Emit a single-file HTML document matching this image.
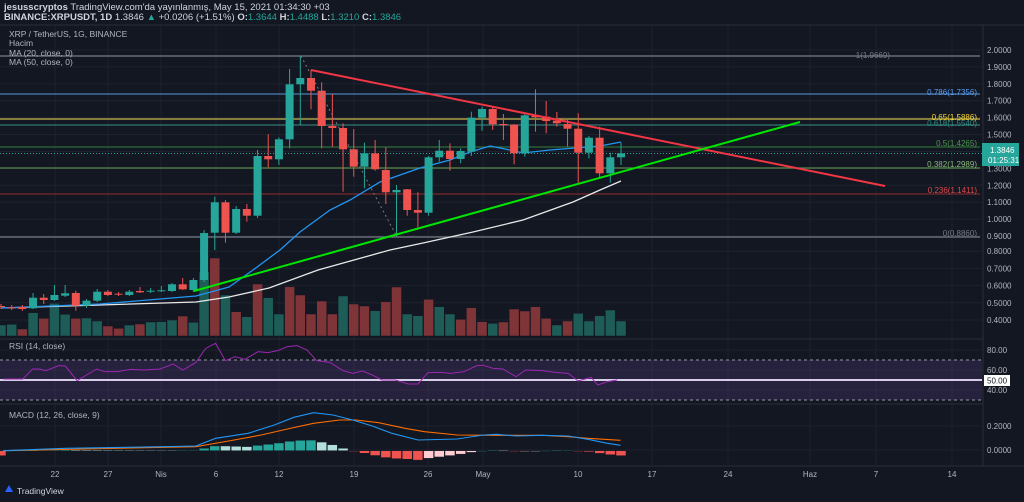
<!DOCTYPE html>
<html><head><meta charset="utf-8"><style>
body{margin:0;background:#131722;width:1024px;height:502px;overflow:hidden;font-family:"Liberation Sans",sans-serif}
svg{position:absolute;left:0;top:0}
</style></head><body>
<svg id="s" width="1024" height="502" xmlns="http://www.w3.org/2000/svg" font-family="Liberation Sans, sans-serif">
<rect width="1024" height="502" fill="#131722"/>
<g id="grid" stroke="#1e222d" stroke-width="1"></g>
<g id="main"></g>
<text x="4" y="10" fill="#d1d4dc" font-size="9.5"><tspan font-weight="bold">jesusscryptos</tspan> TradingView.com'da yayınlanmış, May 15, 2021 01:34:30 +03</text>
<text x="4" y="20" fill="#d1d4dc" font-size="9.5"><tspan font-weight="bold">BINANCE:XRPUSDT, 1D</tspan> 1.3846 <tspan fill="#26a69a">▲</tspan> +0.0206 (+1.51%) <tspan font-weight="bold">O:</tspan><tspan fill="#26a69a">1.3644</tspan> <tspan font-weight="bold">H:</tspan><tspan fill="#26a69a">1.4488</tspan> <tspan font-weight="bold">L:</tspan><tspan fill="#26a69a">1.3210</tspan> <tspan font-weight="bold">C:</tspan><tspan fill="#26a69a">1.3846</tspan></text>
<g fill="#b2b5be" font-size="8.5">
<text x="9" y="37">XRP / TetherUS, 1G, BINANCE</text>
<text x="9" y="46">Hacim</text>
<text x="9" y="56">MA (20, close, 0)</text>
<text x="9" y="65">MA (50, close, 0)</text>
<text x="9" y="349">RSI (14, close)</text>
<text x="9" y="418">MACD (12, 26, close, 9)</text>
</g>
<g fill="#b2b5be" font-size="8" id="axis"></g>
<rect x="982" y="143" width="37" height="23" fill="#26a69a"/>
<text x="990" y="153" fill="#fff" font-size="8">1.3846</text>
<text x="988" y="163" fill="#fff" font-size="8">01:25:31</text>
<rect x="984" y="375" width="26" height="11" fill="#fff"/>
<text x="987" y="383.5" fill="#131722" font-size="8">50.00</text>
<g font-size="8">
<text x="890" y="58" fill="#787b86" text-anchor="end">1(1.9669)</text>
<text x="977" y="95" fill="#5b9cf6" text-anchor="end">0.786(1.7356)</text>
<text x="977" y="120" fill="#f7d83a" text-anchor="end">0.65(1.5886)</text>
<text x="977" y="126" fill="#2f8a80" text-anchor="end">0.618(1.5540)</text>
<text x="977" y="146" fill="#4c9a4c" text-anchor="end">0.5(1.4265)</text>
<text x="977" y="167" fill="#8ab87a" text-anchor="end">0.382(1.2989)</text>
<text x="977" y="193" fill="#e0484e" text-anchor="end">0.236(1.1411)</text>
<text x="977" y="236" fill="#787b86" text-anchor="end">0(0.8860)</text>
</g>
<g fill="#b2b5be" font-size="8">
<text x="55" y="477" text-anchor="middle">22</text><text x="108" y="477" text-anchor="middle">27</text>
<text x="161" y="477" text-anchor="middle">Nis</text><text x="216" y="477" text-anchor="middle">6</text>
<text x="279" y="477" text-anchor="middle">12</text><text x="354" y="477" text-anchor="middle">19</text>
<text x="428" y="477" text-anchor="middle">26</text><text x="483" y="477" text-anchor="middle">May</text>
<text x="578" y="477" text-anchor="middle">10</text><text x="652" y="477" text-anchor="middle">17</text>
<text x="728" y="477" text-anchor="middle">24</text><text x="810" y="477" text-anchor="middle">Haz</text>
<text x="876" y="477" text-anchor="middle">7</text><text x="952" y="477" text-anchor="middle">14</text>
</g>
<path d="M5 492 l4 -7 l4 7 z" fill="#2962ff"/>
<text x="17" y="494" fill="#d1d4dc" font-size="8.5">TradingView</text>
</svg>
<script>
var NS="http://www.w3.org/2000/svg",S=document.getElementById('s');
function el(t,a,p){var e=document.createElementNS(NS,t);for(var k in a)e.setAttribute(k,a[k]);(p||document.getElementById('main')).appendChild(e);return e;}
var g=document.getElementById('grid');
[55,108,161,216,279,354,428,483,578,652,728,810,876,952].forEach(function(x){el('line',{x1:x,x2:x,y1:25,y2:465},g)});
for(var p=4;p<=20;p++){var y=50+(20-p)*16.91;if(p<9)y=320-(p-4)*17.2;el('line',{x1:0,x2:982,y1:y,y2:y},g);
 var t=el('text',{x:987,y:y+3},document.getElementById('axis'));t.textContent=(p/10).toFixed(4);}
[350,370,390].forEach(function(y,i){el('line',{x1:0,x2:982,y1:y,y2:y},g);var t=el('text',{x:987,y:y+3},document.getElementById('axis'));t.textContent=['80.00','60.00','40.00'][i];});
[426,450].forEach(function(y,i){el('line',{x1:0,x2:982,y1:y,y2:y},g);var t=el('text',{x:987,y:y+3},document.getElementById('axis'));t.textContent=['0.2000','0.0000'][i];});
el('line',{x1:983,x2:983,y1:25,y2:466,stroke:'#2a2e39'});
el('line',{x1:0,x2:1024,y1:25,y2:25,stroke:'#2a2e39'});
el('line',{x1:0,x2:983,y1:339,y2:339,stroke:'#2a2e39'});
el('line',{x1:0,x2:983,y1:404,y2:404,stroke:'#2a2e39'});
el('line',{x1:0,x2:1024,y1:466,y2:466,stroke:'#2a2e39'});
[[56,'#787b86'],[94,'#4a7fb5'],[119,'#c8b94a'],[125,'#2f7a73'],[147,'#2e6e3a'],[168,'#5a8a4a'],[194,'#7a2a2e'],[237,'#787b86']].forEach(function(f){el('line',{x1:0,x2:980,y1:f[0],y2:f[0],stroke:f[1],'stroke-width':1.2})});
el('line',{x1:0,x2:983,y1:153.5,y2:153.5,stroke:'#26a69a','stroke-dasharray':'1,2'});
var vol=[165,163,177,128,145,100,133,145,144,153,168,175,165,162,156,155,150,138,157,6,-36,75,125,140,42,83,132,50,75,132,93,132,78,102,108,122,95,51,132,137,88,110,132,148,113,155,160,156,117,123,110,145,165,153,130,153,137,120,153];
var vc="ggrgrgg rggrrgrgggrgg rgrgrggrrrrrgrrgrrggrggrrrgrrrrrgrgg".replace(/ /g,'');
function X(i){return 621-(58-i)*10.69;}
vol.forEach(function(v,i){var top=270+v/3,x=X(i);el('rect',{x:x-5,y:top,width:10,height:336-top,fill:vc[i]=='r'?'#7f3437':'#1e5c58',stroke:'#131722','stroke-width':0.5})});
var C=[[306,307,304,309],[307.3,308.3,305,310],[307,309,305,311],[308.3,297.7,293,309],[297.7,300,294,304],[300,295,285,301],[295.7,293.3,285,297],[293,305.7,290.7,310.7],[305.7,300.7,299,308],[300.7,291.7,289,302],[291.7,295,290,296],[293.7,294.7,292,296],[295,291.7,290,296],[291,292.3,287,293],[291.7,290.7,288,293],[290.7,290.3,286,292],[291,284.3,283,292],[284.3,289.3,278,290],[290,280,278,292],
[280,233,230,282],[232.7,202.3,196.7,250],[202.3,232.7,200,242.7],[232.7,209,206,234],[209,215.7,204,221.7],[215.7,156,150,218],[156,159.3,134.3,167.3],[159.3,139.3,137.3,165],[139.3,84.3,69,148.3],[84.3,78,56,125],[78,90.7,70,109.3],[90.7,126,82.3,148.3],[126,128,94,146.7],[128,149.3,123.3,191.7],[149.3,166.7,129,176.7],[166.7,153.3,142.7,188.3],[153.3,169.3,140,170.7],[170,192.3,147.3,204],[192.3,190,185,236.7],[189.3,210,189,215.7],[210,212.7,192.3,227.3],[212.7,157.3,156,215.7],[157.3,150.7,140,161.7],[150.7,159,143.3,170.7],[159,151,148.3,163.3],[151.7,117.7,111.7,156],[117.7,109,106.7,130.7],[109,124.3,106.7,130],[124,125.3,114,140],[124.7,153.3,124,164.3],[153.3,115.3,114,156.7],[115,117.3,89.3,131.7],[116.7,121,101,133.3],[120.7,123.3,112,126.7],[124,128.7,118.3,146.7],[128.7,152.7,113.3,182.7],[152.7,137.7,136,158.3],[137.7,173.3,126.7,178.3],[173.3,157.3,152.7,182.7],[157.3,153.3,142.7,165]];
function pl(pts,st,w,extra){var a={points:pts.map(function(p){return p.join(',')}).join(' '),fill:'none',stroke:st,'stroke-width':w||1.2};for(var k in extra)a[k]=extra[k];el('polyline',a);}
pl([[1,308],[100,305],[196,302],[229,297],[269,288],[318,270],[390,250],[423,243],[473,232],[523,220],[573,202],[600,190],[621,181]],'#e8e8e8',1.3);
pl([[1,308],[100,304],[196,296],[229,287],[253,270],[280,250],[300,232],[330,210],[350,200],[380,182],[420,168],[450,160],[470,152],[490,146],[510,150],[523,153],[550,150],[575,148],[600,146],[621,142]],'#2196f3',1.3);
C.forEach(function(c,i){var x=X(i),up=c[1]<c[0],col=up?'#26a69a':'#ef5350';el('line',{x1:x,x2:x,y1:c[2],y2:c[3],stroke:col});var t=Math.min(c[0],c[1]),h=Math.max(1,Math.abs(c[0]-c[1]));el('rect',{x:x-4,y:t,width:8,height:h,fill:col});});
el('line',{x1:301,y1:56,x2:397,y2:237,stroke:'#787b86','stroke-dasharray':'2,3'});
el('line',{x1:311,y1:70,x2:885,y2:186,stroke:'#f23645','stroke-width':2});
el('line',{x1:194,y1:291,x2:800,y2:122,stroke:'#00e600','stroke-width':2});
el('rect',{x:0,y:360,width:982,height:40,fill:'#7e57c2','fill-opacity':0.18});
el('line',{x1:0,x2:982,y1:360,y2:360,stroke:'#9598a1','stroke-dasharray':'3,3'});
el('line',{x1:0,x2:982,y1:400,y2:400,stroke:'#9598a1','stroke-dasharray':'3,3'});
el('line',{x1:0,x2:982,y1:380,y2:380,stroke:'#d8cde8','stroke-width':2});
var R=[[5,147],[35,147],[50,117],[60,117],[70,122],[90,107],[100,108],[118,152],[148,117],[160,125],[180,125],[200,118],[220,120],[245,117],[265,102],[280,120],[300,97],[315,55],[330,40],[345,92],[360,80],[375,88],[395,65],[410,68],[425,62],[440,50],[455,47],[470,60],[485,92],[505,97],[525,122],[540,130],[555,123],[570,135],[585,150],[605,150],[625,162],[640,162],[655,128],[675,127],[690,130],[710,125],[730,107],[740,106],[755,115],[770,117],[790,140],[805,120],[830,122],[850,127],[870,130],[885,153],[905,142],[915,165],[930,155],[945,150]];
pl(R.map(function(p){return [p[0]/1.531,p[1]/3+330]}),'#9c27b0',1);
var M=[[5,362],[100,355],[250,350],[300,348],[330,325],[380,310],[420,285],[450,262],[480,248],[510,255],[540,270],[570,288],[600,310],[640,330],[700,327],[740,315],[760,313],[790,318],[830,316],[870,318],[900,328],[930,340],[950,346]].map(function(p){return [p[0]/1.531,p[1]/3+330]});
var G=[[5,362],[150,356],[300,350],[350,333],[400,315],[440,297],[480,280],[520,270],[545,270],[580,278],[620,295],[650,305],[700,315],[760,316],[830,316],[870,320],[900,325],[950,331]].map(function(p){return [p[0]/1.531,p[1]/3+330]});
function iv(L,x){for(var i=0;i<L.length-1;i++){if(x>=L[i][0]&&x<=L[i+1][0]){var f=(x-L[i][0])/(L[i+1][0]-L[i][0]);return L[i][1]+f*(L[i+1][1]-L[i][1]);}}return L[L.length-1][1];}
var prev=0;for(var i=0;i<59;i++){var x=X(i);var d=iv(M,x)-iv(G,x);var h=-d;var col;if(h>=0)col=h>=prev?'#26a69a':'#b2dfdb';else col=h<prev?'#ef5350':'#ffcdd2';prev=h;var y0=450.7,y1=450.7+d;el('rect',{x:x-5,y:Math.min(y0,y1),width:10,height:Math.max(0.8,Math.abs(d)),fill:col,stroke:'#131722','stroke-width':0.5});}
pl(G,'#ff6d00',1.1);pl(M,'#2196f3',1.1);
</script>
</body></html>
